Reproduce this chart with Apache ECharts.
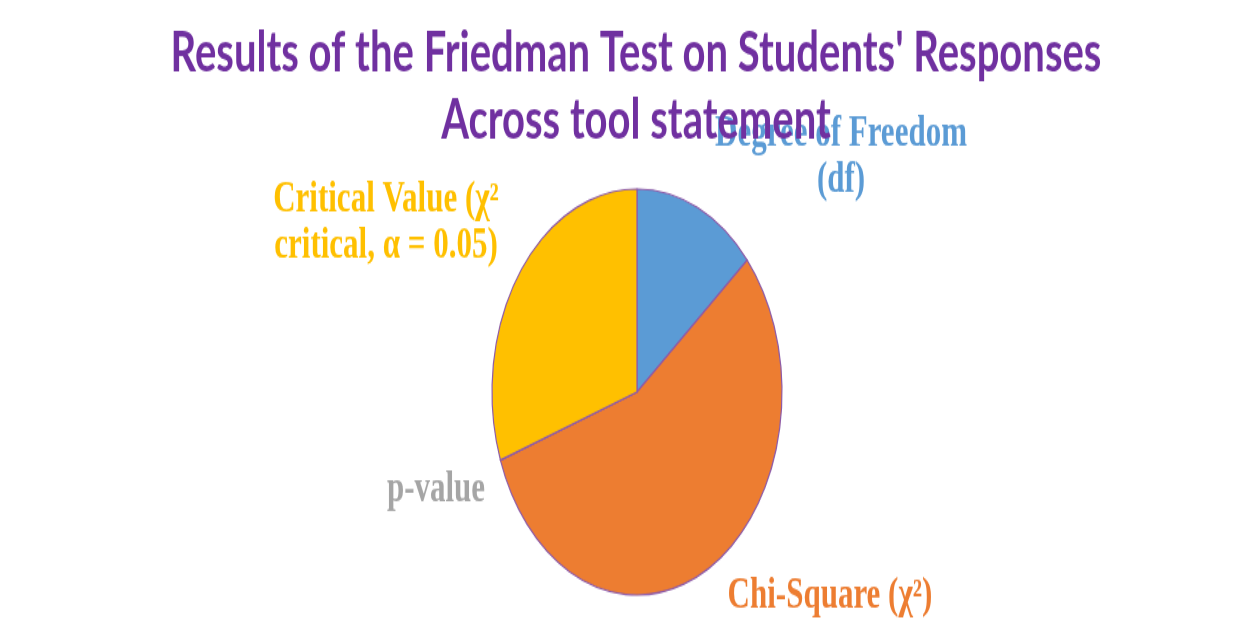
<!DOCTYPE html>
<html>
<head>
<meta charset="utf-8">
<title>Friedman Test</title>
<script src="https://cdn.jsdelivr.net/npm/echarts@6/dist/echarts.min.js"></script>
<style>
    html, body { margin: 0; padding: 0; background: #fff; }
    #wrap { width: 1260px; height: 627px; overflow: hidden; position: relative; }
    /* the source picture is stretched vertically, so the whole chart is too */
    #main { width: 1260px; height: 448px; transform: scaleY(1.4); transform-origin: 0 0; }
</style>
</head>
<body>
<div id="wrap"><div id="main"></div></div>
<script>
// data
var names = ['Degree of Freedom (df)', 'Chi-Square (χ²)', 'p-value', 'Critical Value (χ² critical, α = 0.05)'];
var values = [5, 20.3, 0.001, 11.07];
var labelTexts = ['Degree of Freedom\n(df)', 'Chi-Square (χ²)', 'p-value', 'Critical Value (χ²\ncritical, α = 0.05)'];
var colors = ['#5B9BD5', '#ED7D31', '#A5A5A5', '#FFC000'];

// where the labels sit (unstretched pixels)
var labelSpots = [[841, 112], [830, 426], [436, 350], [386, 159]];

var myChart = echarts.init(document.getElementById('main'));

var pieData = [];
for (var i = 0; i < names.length; i++) {
    pieData.push({
        name: names[i],
        value: values[i],
        itemStyle: {color: colors[i]},
        label: {color: colors[i], formatter: labelTexts[i]}
    });
}

var option = {
    backgroundColor: '#fff',
    title: {
        text: 'Results of the Friedman Test on Students\' Responses\nAcross tool statement',
        left: 636,
        top: 14,
        padding: 0,
        textAlign: 'center',
        textStyle: {
            fontFamily: 'Lato',
            fontWeight: 'bold',
            fontSize: 40,
            lineHeight: 48,
            color: '#7030A0'
        },
        z: 10
    },
    series: [
        {
            type: 'pie',
            center: [637, 280],
            radius: 145,
            startAngle: 90,
            clockwise: true,
            avoidLabelOverlap: false,
            itemStyle: {
                borderColor: '#8E5BA8',
                borderWidth: 1.2
            },
            label: {
                show: true,
                position: 'outside',
                fontFamily: 'Liberation Serif',
                fontWeight: 'bold',
                fontSize: 31,
                lineHeight: 33
            },
            labelLine: {show: false},
            labelLayout: function (params) {
                var s = labelSpots[params.dataIndex];
                return {x: s[0], y: s[1], align: 'center', verticalAlign: 'middle'};
            },
            emphasis: {disabled: true},
            data: pieData
        }
    ]
};
myChart.setOption(option);
</script>
</body>
</html>
